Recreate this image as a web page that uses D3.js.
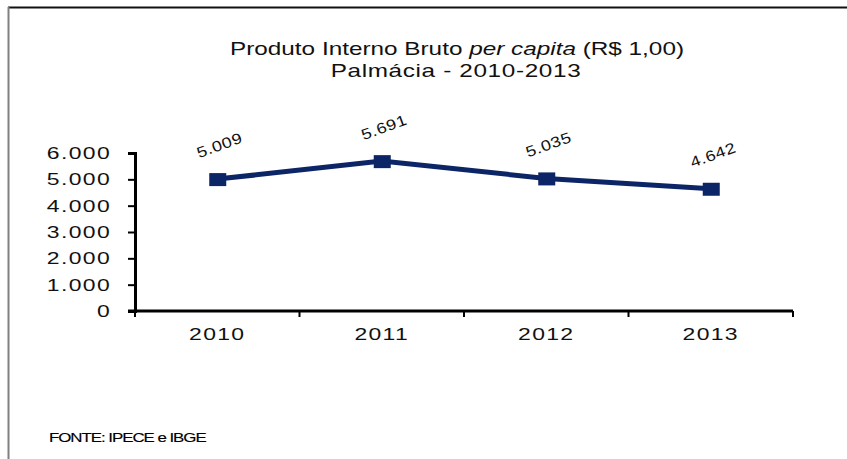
<!DOCTYPE html>
<html>

<head>
    <meta charset="utf-8">
    <title>PIB per capita</title>
    <script src="https://d3js.org/d3.v7.min.js"></script>
    <style>
        body { margin: 0; background: #fff; }
        text { font-family: "Liberation Sans", Arial, sans-serif; }
    </style>
</head>

<body>
    <div id='view'></div>

    <script>
        var years = ["2010", "2011", "2012", "2013"];
        var pibValues = [5009, 5691, 5035, 4642];
        var yTicks = [0, 1000, 2000, 3000, 4000, 5000, 6000];

        var width = 847;
        var height = 459;
        var margin = { left: 135, right: 54, top: 153, bottom: 148 };
        var stretch = 1.35; // the original text is drawn wide

        var svg = d3.select("#view")
            .append("svg")
            .attr("width", width)
            .attr("height", height);

        // frame: only top and left are visible
        svg.append("line")
            .attr("x1", 8).attr("x2", width).attr("y1", 7.5).attr("y2", 7.5)
            .attr("stroke", "#111").attr("stroke-width", 2);
        svg.append("line")
            .attr("x1", 8.5).attr("x2", 8.5).attr("y1", 7).attr("y2", height)
            .attr("stroke", "#808080").attr("stroke-width", 2);

        var xScale = d3.scaleBand()
            .domain(years)
            .range([margin.left, width - margin.right]);

        var yScale = d3.scaleLinear()
            .domain([0, 6000])
            .range([height - margin.bottom, margin.top]);

        var fmt = function (d) {
            return d3.format(",")(d).replace(/,/g, ".");
        };

        // title
        var title = svg.append("text")
            .attr("transform", "translate(457,55) scale(1.28,1)")
            .attr("text-anchor", "middle")
            .attr("font-size", 19)
            .attr("fill", "#111");
        title.append("tspan").text("Produto Interno Bruto ");
        title.append("tspan").attr("font-style", "italic").text("per capita");
        title.append("tspan").text(" (R$ 1,00)");

        svg.append("text")
            .attr("transform", "translate(456,77) scale(1.28,1)")
            .attr("text-anchor", "middle")
            .attr("font-size", 19)
            .attr("letter-spacing", 0.5)
            .attr("fill", "#111")
            .text("Palmácia - 2010-2013");

        // y axis
        var yAxis = svg.append("g")
            .attr("transform", "translate(" + margin.left + ",0)")
            .call(d3.axisLeft(yScale).tickValues(yTicks).tickFormat(fmt).tickSize(7));
        yAxis.select(".domain").attr("stroke", "#000").attr("stroke-width", 3);
        yAxis.selectAll(".tick line").attr("stroke", "#000").attr("stroke-width", 2);
        yAxis.selectAll(".tick text")
            .attr("transform", "scale(" + stretch + ",1)")
            .attr("x", -24 / stretch)
            .attr("font-size", 17)
            .attr("letter-spacing", 1)
            .attr("fill", "#111")
            .attr("font-family", "Liberation Sans, Arial, sans-serif");

        // x axis
        var xAxis = svg.append("g")
            .attr("transform", "translate(0," + (height - margin.bottom) + ")")
            .call(d3.axisBottom(xScale).tickSize(0).tickPadding(17));
        xAxis.select(".domain").attr("stroke", "#000").attr("stroke-width", 3)
            .attr("d", "M" + (margin.left - 7) + ",0H" + (width - margin.right));
        xAxis.selectAll(".tick text")
            .attr("transform", "scale(" + stretch + ",1)")
            .attr("font-size", 17)
            .attr("letter-spacing", 1)
            .attr("fill", "#111")
            .attr("font-family", "Liberation Sans, Arial, sans-serif");

        // category separator ticks on x axis
        var edges = years.map(function (d) { return xScale(d); }).concat([xScale.range()[1]]);
        svg.selectAll(".xsep")
            .data(edges)
            .enter()
            .append("line")
            .attr("x1", function (d) { return d; })
            .attr("x2", function (d) { return d; })
            .attr("y1", height - margin.bottom)
            .attr("y2", height - margin.bottom + 6)
            .attr("stroke", "#000")
            .attr("stroke-width", 2);

        var cx = function (d, i) { return xScale(years[i]) + xScale.bandwidth() / 2; };

        var line = d3.line()
            .x(function (d, i) { return cx(d, i); })
            .y(function (d) { return yScale(d); });

        svg.append("path")
            .datum(pibValues)
            .attr("d", line)
            .attr("fill", "none")
            .attr("stroke", "#0b2566")
            .attr("stroke-width", 5);

        svg.selectAll(".marker")
            .data(pibValues)
            .enter()
            .append("rect")
            .attr("x", function (d, i) { return cx(d, i) - 8; })
            .attr("y", function (d) { return yScale(d) - 6; })
            .attr("width", 17)
            .attr("height", 13)
            .attr("fill", "#0b2566");

        svg.selectAll(".label")
            .data(pibValues)
            .enter()
            .append("text")
            .attr("transform", function (d, i) {
                return "translate(" + (cx(d, i) + 4) + "," + (yScale(d) - 29) + ") rotate(-20) scale(1.2,1)";
            })
            .attr("text-anchor", "middle")
            .attr("font-size", 15)
            .attr("letter-spacing", 0.4)
            .attr("fill", "#111")
            .text(function (d) { return fmt(d); });

        // source
        svg.append("text")
            .attr("transform", "translate(49,442) scale(1.3,1)")
            .attr("font-size", 13)
            .attr("letter-spacing", -0.8)
            .attr("fill", "#000")
            .attr("stroke", "#000")
            .attr("stroke-width", 0.15)
            .text("FONTE: IPECE e IBGE");
    </script>

</body>

</html>
